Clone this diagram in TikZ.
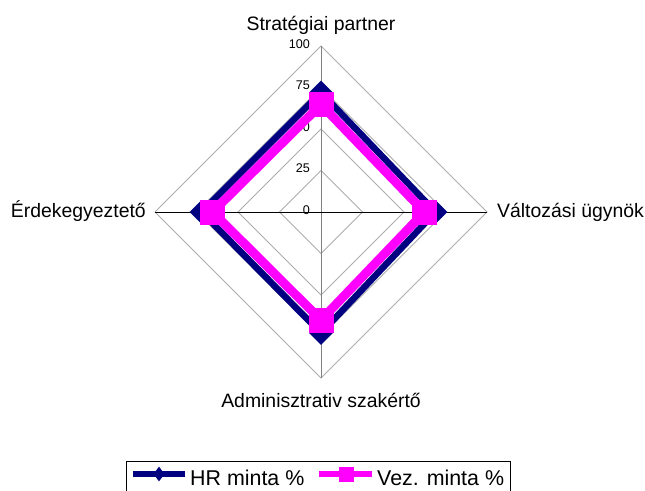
\documentclass[tikz,border=0pt]{standalone}
\usepackage{fontspec}
\setmainfont{Liberation Sans}
\usetikzlibrary{shapes.geometric}
\definecolor{hrblue}{RGB}{0,0,128}
\definecolor{vezpink}{RGB}{255,0,255}
\begin{document}
\begin{tikzpicture}[x=1pt, y=-1pt,
    grid/.style={gray!65, line width=0.8pt},
    axislabel/.style={inner sep=0pt, font=\fontsize{19.4}{23}\selectfont},
    ticklabel/.style={inner sep=0pt, anchor=base east, font=\fontsize{12.6}{15}\selectfont},
    legendlabel/.style={inner sep=0pt, anchor=base west, font=\fontsize{21.4}{25}\selectfont},
    hrline/.style={hrblue, line width=6.5pt},
    vezline/.style={vezpink, line width=9pt},
    hrmark/.style={diamond, fill=hrblue, inner sep=0pt, minimum width=24pt, minimum height=24pt},
    vezmark/.style={rectangle, fill=vezpink, inner sep=0pt, minimum size=25pt}]
    \useasboundingbox (0,0) rectangle (645,490);

    % grid
    \draw[grid] (321,46) -- (487,212) -- (321,378) -- (155,212) -- cycle;
    \draw[grid] (321,87.5) -- (445.5,212) -- (321,336.5) -- (196.5,212) -- cycle;
    \draw[grid] (321,129) -- (404,212) -- (321,295) -- (238,212) -- cycle;
    \draw[grid] (321,170.5) -- (362.5,212) -- (321,253.5) -- (279.5,212) -- cycle;
    \draw[gray, line width=1pt] (321,46) -- (321,378);
    \draw[black, line width=1pt] (155,212) -- (487,212);

    \node[ticklabel] (t100) at (310,48) {100};
    \node[ticklabel] (t75) at (310,89.5) {75};
    \node[ticklabel] (t50) at (310,131) {50};
    \node[ticklabel] (t25) at (310,172.5) {25};
    \node[ticklabel] (t0) at (310,214) {0};

    \node[axislabel, anchor=base] (strat) at (321,30) {Stratégiai partner};
    \node[axislabel, anchor=base west] (valt) at (497,217) {Változási ügynök};
    \node[axislabel, anchor=base] (admin) at (321,407) {Adminisztrativ szakértő};
    \node[axislabel, anchor=base east] (erdek) at (146,217) {Érdekegyeztető};

    % HR minta
    \coordinate (hr1) at (321,92.5);
    \coordinate (hr2) at (435.5,212);
    \coordinate (hr3) at (321,333);
    \coordinate (hr4) at (201.5,212);
    \draw[hrline] (hr1) -- (hr2) -- (hr3) -- (hr4) -- cycle;
    \node[hrmark] (hrm1) at (hr1) {};
    \node[hrmark] (hrm2) at (hr2) {};
    \node[hrmark] (hrm3) at (hr3) {};
    \node[hrmark] (hrm4) at (hr4) {};

    % Vez. minta
    \coordinate (vez1) at (321,104.5);
    \coordinate (vez2) at (424.5,212);
    \coordinate (vez3) at (321,320);
    \coordinate (vez4) at (212.5,212);
    \draw[vezline] (vez1) -- (vez2) -- (vez3) -- (vez4) -- cycle;
    \node[vezmark] (vezm1) at (vez1) {};
    \node[vezmark] (vezm2) at (vez2) {};
    \node[vezmark] (vezm3) at (vez3) {};
    \node[vezmark] (vezm4) at (vez4) {};

    % legend
    \draw[black, line width=0.8pt] (126,491) -- (126,461) -- (510,461) -- (510,491);
    \coordinate (lhra) at (133,474);
    \coordinate (lhrb) at (185,474);
    \draw[hrline, line width=5.5pt] (lhra) -- (lhrb);
    \node[hrmark, minimum width=11pt, minimum height=15pt] (lhrm) at (159,474) {};
    \node[legendlabel] (lhr) at (190,485) {HR minta \%};
    \coordinate (lveza) at (319,474);
    \coordinate (lvezb) at (372,474);
    \draw[vezline, line width=5.5pt] (lveza) -- (lvezb);
    \node[vezmark, minimum size=15pt] (lvezm) at (346,474) {};
    \node[legendlabel] (lvez) at (377,485) {Vez. minta \%};
\end{tikzpicture}
\end{document}
